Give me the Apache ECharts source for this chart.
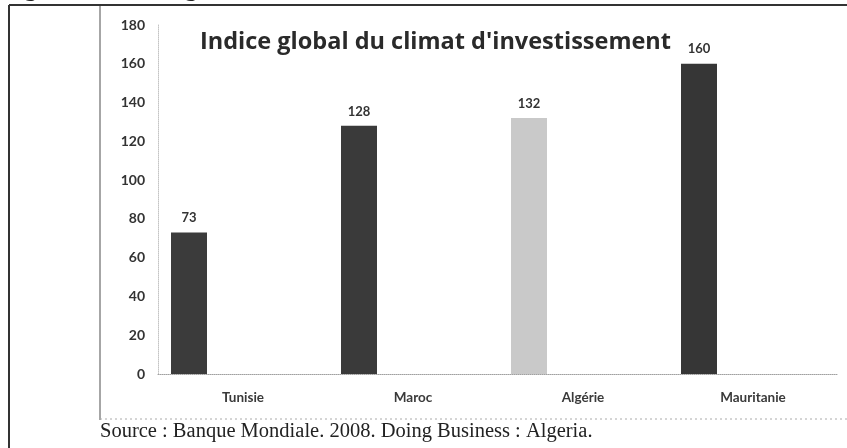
<!DOCTYPE html>
<html>
<head>
<meta charset="utf-8">
<script src="https://cdn.jsdelivr.net/npm/echarts@6/dist/echarts.min.js"></script>
<style>html,body{margin:0;padding:0;background:#fff}#c{width:847px;height:448px}</style>
</head>
<body>
<div id="c"></div>
<script>
const categories = ['Tunisie', 'Maroc', 'Algérie', 'Mauritanie'];
const values = [73, 128, 132, 160];
const barColors = ['#3b3b3b', '#3a3a3a', '#c9c9c9', '#363636'];
const yTicks = [0, 20, 40, 60, 80, 100, 120, 140, 160, 180];

const chart = echarts.init(document.getElementById('c'));
chart.setOption({
  animation: false,
  backgroundColor: '#ffffff',
  title: [{
    text: "Indice global du climat d'investissement",
    left: 195, top: 25,
    textStyle: { fontFamily: 'Open Sans', fontWeight: 'bold', fontSize: 23.5, color: '#2a2a2a' }
  }],
  grid: { left: 158, right: 9, top: 25, bottom: 74 },
  xAxis: {
    type: 'category', data: categories,
    axisLine: { show: true, lineStyle: { color: '#a0a0a0', type: 'dotted', width: 1 } },
    axisTick: { show: false },
    axisLabel: { margin: 17, fontFamily: 'Lato', fontWeight: 'bold', fontSize: 13.5, color: '#3a3a3a' }
  },
  yAxis: {
    type: 'value', min: yTicks[0], max: yTicks[yTicks.length - 1], interval: 20,
    axisLine: { show: true, lineStyle: { color: '#c4c4c4', type: 'dotted', width: 1 } },
    axisTick: { show: false },
    splitLine: { show: false },
    axisLabel: { margin: 13, fontFamily: 'Lato', fontWeight: 'bold', fontSize: 14, color: '#333' }
  },
  series: [{
    type: 'bar',
    data: values.map((v, i) => ({ value: v, itemStyle: { color: barColors[i] } })),
    barWidth: 36, barGap: '0%',
    label: { show: true, position: 'top', distance: 8, fontFamily: 'Lato', fontWeight: 'bold', fontSize: 13, color: '#333' }
  }, {
    type: 'bar', silent: true,
    data: categories.map(() => null),
    barWidth: 108, barGap: '0%'
  }],
  graphic: [
    { type: 'line', shape: { x1: 9, y1: 5, x2: 847, y2: 5 }, style: { stroke: '#333', lineWidth: 2 } },
    { type: 'line', shape: { x1: 9, y1: 5, x2: 9, y2: 448 }, style: { stroke: '#333', lineWidth: 2 } },
    { type: 'line', shape: { x1: 100, y1: 6, x2: 100, y2: 420 }, style: { stroke: '#888', lineWidth: 1.5 } },
    { type: 'line', shape: { x1: 100, y1: 419, x2: 847, y2: 419 }, style: { stroke: '#aaa', lineWidth: 1, lineDash: [2, 3] } },
    { type: 'text', left: 2, top: -23, style: { text: "Figure 8 : Indice global du climat d'investissement, 2008-2009", font: 'bold 25px "Liberation Serif"', fill: '#222' } },
    { type: 'text', left: 100, top: 421, style: { text: 'Source : Banque Mondiale. 2008. Doing Business : Algeria.', font: '20.5px "Liberation Serif"', fill: '#222' } }
  ]
});
</script>
</body>
</html>
